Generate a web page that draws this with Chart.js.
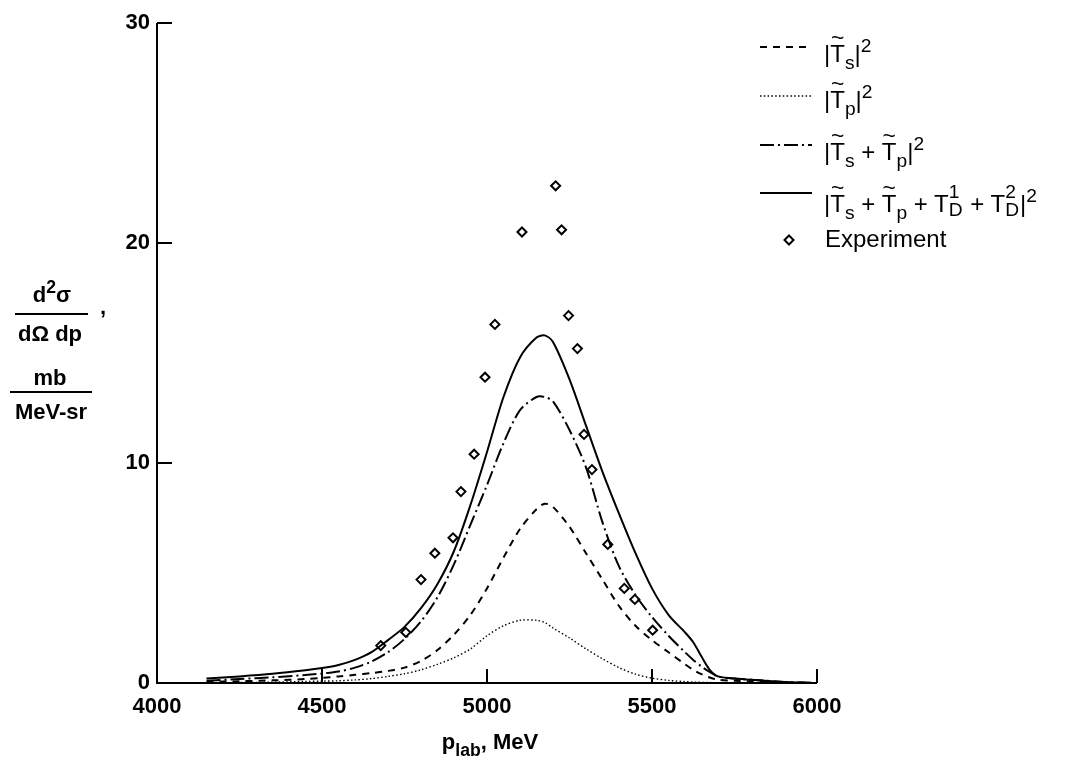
<!DOCTYPE html>
<html><head><meta charset="utf-8">
<script src="https://cdn.jsdelivr.net/npm/chart.js@4.4.1/dist/chart.umd.min.js"></script>
<style>
html,body{margin:0;padding:0;background:#fff;}
#wrap{position:relative;width:1072px;height:766px;overflow:hidden;font-family:"Liberation Sans",Arial,sans-serif;color:#000;}
#c{position:absolute;left:0;top:0;}
.t{position:absolute;white-space:nowrap;line-height:1;}
.f22{font-size:22px;}
.f24{font-size:24px;}
.b{font-weight:bold;}
.tl{position:relative;display:inline-block;}
.tl::before{content:"~";position:absolute;left:0;right:0;text-align:center;top:-0.72em;font-size:0.95em;}
.sb{font-size:0.8em;position:relative;top:0.38em;}
.sp{font-size:0.8em;position:relative;top:-0.5em;}
.stk{display:inline-block;position:relative;width:0.62em;height:1em;}
.stk .u{position:absolute;left:0;top:-0.3em;font-size:0.8em;}
.stk .d{position:absolute;left:0;top:0.6em;font-size:0.8em;}
.rule{position:absolute;border-top:2px solid #000;height:0;}
</style></head>
<body>
<div id="wrap">
<canvas id="c" width="1072" height="766"></canvas>

<!-- y axis title -->
<div class="t f22 b" style="left:0;width:104px;text-align:center;top:284px;">d<span class="sp">2</span>σ</div>
<div class="rule" style="left:15px;width:73px;top:313px;"></div>
<div class="t f22 b" style="left:0;width:100px;text-align:center;top:323px;">dΩ dp</div>
<div class="t f22 b" style="left:100px;top:296px;">,</div>
<div class="t f22 b" style="left:0;width:100px;text-align:center;top:367px;">mb</div>
<div class="rule" style="left:10px;width:82px;top:391px;"></div>
<div class="t f22 b" style="left:0;width:102px;text-align:center;top:401px;">MeV-sr</div>

<!-- x axis title -->
<div class="t f22 b" style="left:390px;width:200px;text-align:center;top:731px;">p<span class="sb">lab</span>, MeV</div>

<!-- legend texts -->
<div class="t f24" style="left:824px;top:42px;">|<span class="tl">T</span><span class="sb">s</span>|<span class="sp">2</span></div>
<div class="t f24" style="left:824px;top:88px;">|<span class="tl">T</span><span class="sb">p</span>|<span class="sp">2</span></div>
<div class="t f24" style="left:824px;top:140px;">|<span class="tl">T</span><span class="sb">s</span> + <span class="tl">T</span><span class="sb">p</span>|<span class="sp">2</span></div>
<div class="t f24" style="left:824px;top:188px;">|<span class="tl">T</span><span class="sb">s</span> + <span class="tl">T</span><span class="sb">p</span> + T<span class="stk"><span class="u">1</span><span class="d">D</span></span> + T<span class="stk"><span class="u">2</span><span class="d">D</span></span>|<span class="sp">2</span></div>
<div class="t f24" style="left:825px;top:227px;">Experiment</div>
</div>

<script>
// ---- data ----
const pLab = [4150,4250,4350,4450,4500,4550,4600,4650,4700,4750,4800,4850,4900,4950,5000,5050,5100,5150,5175,5200,5250,5300,5350,5400,5450,5500,5550,5600,5625,5650,5675,5700,5750,5800,5900,6000];
const tFull = [0.2,0.3,0.42,0.58,0.68,0.82,1.05,1.4,1.95,2.55,3.4,4.5,6.0,8.1,10.5,13.0,14.8,15.7,15.8,15.5,13.8,11.7,9.6,7.7,5.9,4.3,3.1,2.3,1.85,1.2,0.6,0.3,0.2,0.15,0.05,0];
const tSP = [0.1,0.18,0.26,0.36,0.43,0.52,0.7,0.98,1.4,2.0,2.8,3.9,5.4,7.2,9.0,10.9,12.4,13.0,13.0,12.8,11.5,9.8,7.3,5.3,4.0,3.0,2.15,1.4,1.05,0.75,0.5,0.3,0.2,0.15,0.05,0];
const tS = [0.05,0.08,0.12,0.18,0.23,0.3,0.37,0.45,0.55,0.7,1.0,1.5,2.2,3.1,4.3,5.7,7.0,7.9,8.15,8.0,7.1,5.9,4.7,3.5,2.6,1.95,1.4,0.85,0.6,0.4,0.25,0.15,0.1,0.07,0.03,0];
const tP = [0,0.02,0.04,0.07,0.085,0.1,0.14,0.2,0.3,0.42,0.6,0.85,1.15,1.55,2.15,2.6,2.85,2.85,2.75,2.5,2.05,1.55,1.1,0.7,0.4,0.22,0.12,0.06,0.04,0.03,0.02,0.01,0,0,0,0];
const expP = [4678,4754,4800,4842,4897,4921,4961,4994,5024,5106,5208,5226,5247,5274,5294,5318,5366,5416,5448,5502];
const expV = [1.7,2.3,4.7,5.9,6.6,8.7,10.4,13.9,16.3,20.5,22.6,20.6,16.7,15.2,11.3,9.7,6.3,4.3,3.8,2.4];
const xTicks = [4000,4500,5000,5500,6000];
const yTicks = [0,10,20,30];

const pts = (xs, ys) => xs.map((x,i)=>({x:x, y:ys[i]}));
const curve = (ys, dash, w) => ({data: pts(pLab, ys), showLine:true, borderColor:'#000', borderWidth:w, borderDash:dash,
  pointRadius:0, tension:0.3, fill:false});

const datasets = [
  curve(tFull, [], 2),
  curve(tSP, [14,4,2,4], 2),
  curve(tS, [7,6], 2),
  curve(tP, [1.5,2.3], 1.4),
  {data: pts(expP, expV), showLine:false, pointStyle:'rectRot', pointRadius:4.5, pointBorderWidth:2,
   pointBackgroundColor:'#fff', pointBorderColor:'#000', borderColor:'#000', backgroundColor:'#fff'}
];

const decor = {
  id:'decor',
  afterDatasetsDraw(chart){
    const {ctx, scales:{x,y}, chartArea:a} = chart;
    ctx.save();
    ctx.strokeStyle='#000'; ctx.lineWidth=2; ctx.setLineDash([]);
    ctx.beginPath();
    ctx.moveTo(a.left, a.top); ctx.lineTo(a.left, a.bottom); ctx.lineTo(a.right, a.bottom);
    xTicks.forEach(v=>{const px=x.getPixelForValue(v); ctx.moveTo(px,a.bottom); ctx.lineTo(px,a.bottom-14);});
    yTicks.forEach(v=>{const py=y.getPixelForValue(v); ctx.moveTo(a.left,py); ctx.lineTo(a.left+15,py);});
    ctx.stroke();
    // legend samples
    const rows = [47, 96, 145, 193];
    [2,3,1,0].forEach((di, r)=>{
      const ds = chart.data.datasets[di];
      ctx.beginPath();
      ctx.lineWidth = ds.borderWidth; ctx.setLineDash(ds.borderDash);
      ctx.moveTo(760, rows[r]); ctx.lineTo(812, rows[r]); ctx.stroke();
    });
    ctx.setLineDash([]);
    const e = chart.data.datasets[4];
    ctx.fillStyle='#fff'; ctx.lineWidth=2; ctx.strokeStyle='#000';
    Chart.helpers.drawPoint(ctx, {pointStyle:'rectRot', radius:e.pointRadius, borderWidth:2, rotation:0}, 789, 240);
    ctx.restore();
  }
};

const tickFont = {family:'"Liberation Sans", Arial, sans-serif', size:22, weight:'bold'};
new Chart(document.getElementById('c'), {
  type:'scatter',
  data:{datasets},
  options:{
    responsive:false, animation:false, devicePixelRatio:1,
    layout:{padding:{left:0, top:23, right:255, bottom:0}},
    plugins:{legend:{display:false}, tooltip:{enabled:false}},
    scales:{
      x:{type:'linear', min:4000, max:6000,
         afterFit:s=>{s.height=83;},
         afterBuildTicks:s=>{s.ticks = xTicks.map(v=>({value:v}));},
         grid:{display:false, drawTicks:false}, border:{display:false},
         ticks:{color:'#000', font:tickFont, padding:11, maxRotation:0, autoSkip:false, callback:v=>String(v)}},
      y:{type:'linear', min:0, max:30,
         afterFit:s=>{s.width=157;},
         afterBuildTicks:s=>{s.ticks = yTicks.map(v=>({value:v}));},
         grid:{display:false, drawTicks:false}, border:{display:false},
         ticks:{color:'#000', font:tickFont, padding:7, callback:v=>String(v)}}
    }
  },
  plugins:[decor]
});
</script>
</body></html>
